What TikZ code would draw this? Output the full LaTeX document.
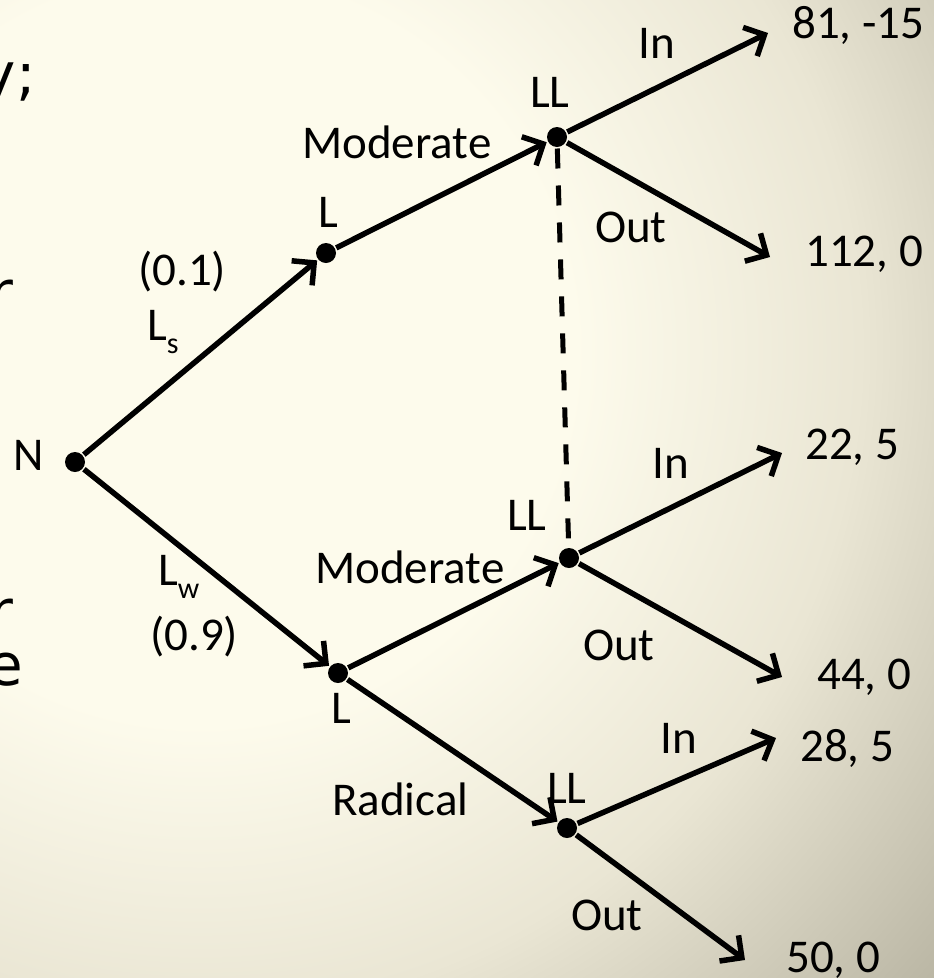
\documentclass[tikz,border=0pt]{standalone}
\usepackage{fontspec}
\setmainfont{Carlito}
\newfontfamily\sidefont{DejaVu Sans}
\usetikzlibrary{arrows.meta}
\definecolor{creamc}{RGB}{253,251,236}
\definecolor{midc}{RGB}{234,230,212}
\definecolor{grayc}{RGB}{200,196,178}
\definecolor{darkc}{RGB}{165,161,143}
\pgfdeclareradialshading{bgshade}{\pgfpoint{0bp}{0bp}}{color(0bp)=(creamc); color(8.5bp)=(creamc); color(15bp)=(midc); color(20bp)=(grayc); color(25bp)=(darkc); color(50bp)=(darkc)}
\begin{document}
\begin{tikzpicture}[x=1pt,y=-1pt,
  font=\fontsize{47}{50}\selectfont,
  dot/.style={circle, fill=black, inner sep=0pt, minimum size=20pt, outer sep=1.5pt},
  lbl/.style={inner sep=0pt, anchor=base west},
  side/.style={inner sep=0pt, anchor=base east, font=\sidefont\fontsize{58}{60}\selectfont},
  edgearrow/.style={line width=5.5pt, -{Straight Barb[length=16pt,width=32pt]}},
  infoset/.style={line width=5pt, dash pattern=on 20pt off 17pt}]
\useasboundingbox (0,0) rectangle (934,978);
\begin{scope}
  \clip (0,0) rectangle (934,978);
  \shade[shading=bgshade] (200,350) circle (1100pt);
\end{scope}

% partial text at the left edge
\node[side] (t1) at (36,94) {y;};
\node[side] (t2) at (14,312) {r};
\node[side] (t3) at (14,631) {r};
\node[side] (t4) at (23,685) {e};

% decision nodes
\node[dot] (N) at (75,462) {};
\node[dot] (L1) at (326,253) {};
\node[dot] (LL1) at (557,137) {};
\node[dot] (L2) at (338,673) {};
\node[dot] (LL2) at (569,558) {};
\node[dot] (LL3) at (567,828) {};

% end points
\coordinate (e1) at (768,33);
\coordinate (e2) at (770,257);
\coordinate (e3) at (782,453);
\coordinate (e4) at (782,677);
\coordinate (e5) at (776,738);
\coordinate (e6) at (745,960);

% edges
\draw[edgearrow] (N) -- (L1);
\draw[edgearrow] (N) -- (L2);
\draw[edgearrow] (L1) -- (LL1);
\draw[edgearrow] (L2) -- (LL2);
\draw[edgearrow] (L2) -- (LL3);
\draw[edgearrow] (LL1) -- (e1);
\draw[edgearrow] (LL1) -- (e2);
\draw[edgearrow] (LL2) -- (e3);
\draw[edgearrow] (LL2) -- (e4);
\draw[edgearrow] (LL3) -- (e5);
\draw[edgearrow] (LL3) -- (e6);
\draw[infoset] (LL1) -- (LL2);

% labels
\node[inner sep=0pt] (nN) at (29,455) {N};
\node[lbl] (p1) at (138,285) {(0.1)};
\node[lbl] (ls) at (147,340) {L\raisebox{-13pt}{\fontsize{30}{32}\selectfont s}};
\node[lbl] (lw) at (158,585) {L\raisebox{-13pt}{\fontsize{30}{32}\selectfont w}};
\node[lbl] (p9) at (150,650) {(0.9)};
\node[lbl] (nL1) at (318,227) {L};
\node[lbl] (nL2) at (331,723) {L};
\node[lbl] (m1) at (302,158) {Moderate};
\node[lbl] (m2) at (315,583) {Moderate};
\node[lbl] (rad) at (332,815) {Radical};
\node[lbl] (nLL1) at (530,107) {LL};
\node[lbl] (nLL2) at (507,530) {LL};
\node[lbl] (nLL3) at (547,803) {LL};
\node[lbl] (in1) at (638,58) {In};
\node[lbl] (out1) at (595,242) {Out};
\node[lbl] (in2) at (652,478) {In};
\node[lbl] (out2) at (583,660) {Out};
\node[lbl] (in3) at (660,753) {In};
\node[lbl] (out3) at (571,930) {Out};
\node[lbl] (v1) at (792,38) {81, -15};
\node[lbl] (v2) at (805,266) {112, 0};
\node[lbl] (v3) at (805,459) {22, 5};
\node[lbl] (v4) at (817,689) {44, 0};
\node[lbl] (v5) at (800,761) {28, 5};
\node[lbl] (v6) at (786,972) {50, 0};
\end{tikzpicture}
\end{document}
